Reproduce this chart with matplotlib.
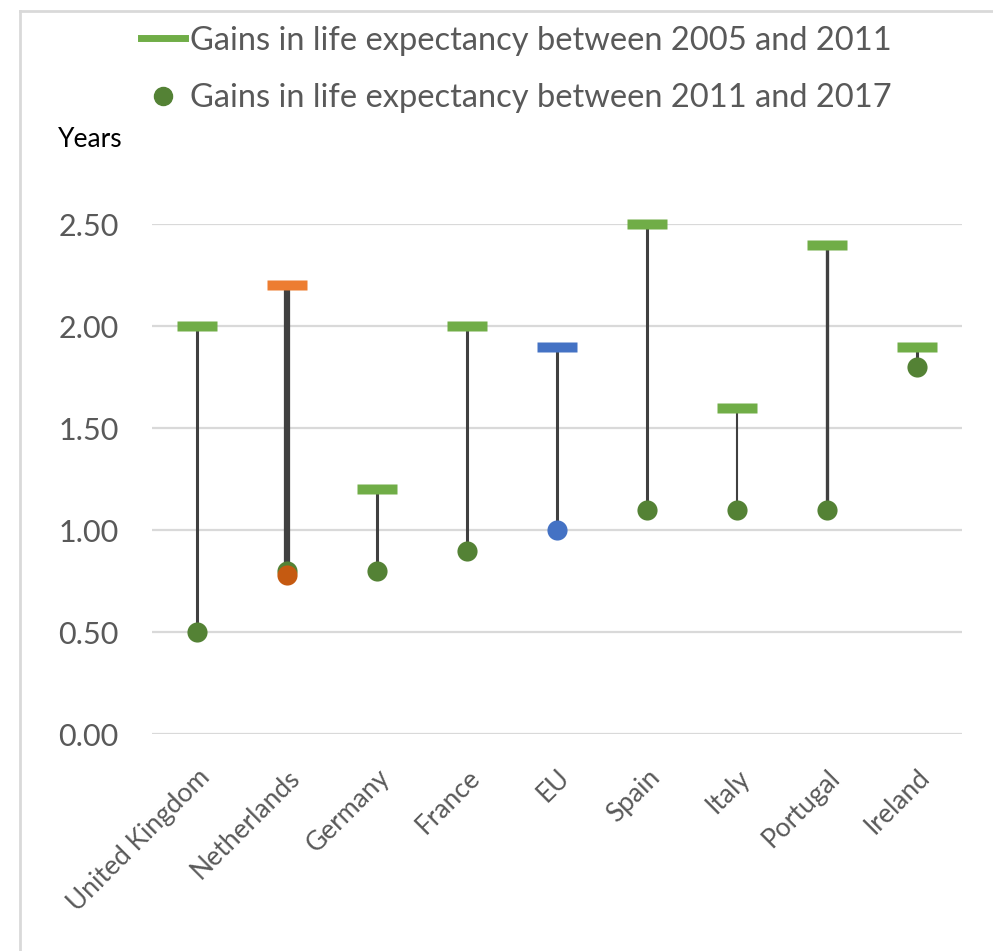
import numpy as np
import matplotlib
matplotlib.use("Agg")
import matplotlib.pyplot as plt
from matplotlib.lines import Line2D
from matplotlib import font_manager

# Dati: guadagni di aspettativa di vita (anni)
countries = ["United Kingdom", "Netherlands", "Germany", "France", "EU",
             "Spain", "Italy", "Portugal", "Ireland"]
gain_2005_2011 = [2.0, 2.2, 1.2, 2.0, 1.9, 2.5, 1.6, 2.4, 1.9]
gain_2011_2017 = [0.5, 0.8, 0.8, 0.9, 1.0, 1.1, 1.1, 1.1, 1.8]
# Punto evidenziato per i Paesi Bassi (sovrapposto al verde)
nl_highlight = 0.78
y_ticks = [0.0, 0.5, 1.0, 1.5, 2.0, 2.5]
legend_labels = ["Gains in life expectancy between 2005 and 2011",
                 "Gains in life expectancy between 2011 and 2017"]

# Stile
GREEN_BAR = "#70AD47"
GREEN_DOT = "#548235"
ORANGE_BAR = "#ED7D31"
ORANGE_DOT = "#C55A11"
BLUE = "#4472C4"
STEM = "#404040"
GRID = "#d9d9d9"
stem_widths = [2.2, 4.5, 2.2, 2.2, 2.2, 2.2, 1.5, 2.4, 2.2]

installed = {f.name for f in font_manager.fontManager.ttflist}
font = "Liberation Sans Narrow" if "Liberation Sans Narrow" in installed else "Lato"
plt.rcParams["font.family"] = [font, "DejaVu Sans"]

# Marker a trattino orizzontale
dash = [(-1, -0.24), (1, -0.24), (1, 0.24), (-1, 0.24), (-1, -0.24)]

fig = plt.figure(figsize=(9.93, 9.51), dpi=100)
ax = fig.add_axes([0.153, 0.228, 0.816, 0.5363])

x = np.arange(len(countries))
bar_colors = [GREEN_BAR] * len(countries)
dot_colors = [GREEN_DOT] * len(countries)
bar_colors[1] = ORANGE_BAR
bar_colors[4] = BLUE
dot_colors[4] = BLUE

for i in x:
    ax.plot([i, i], [gain_2011_2017[i], gain_2005_2011[i]], color=STEM,
            lw=stem_widths[i], solid_capstyle="butt", zorder=3, clip_on=False)
    ax.plot(i, gain_2011_2017[i], marker="o", ms=14.5, color=dot_colors[i],
            mec="none", zorder=4, clip_on=False)
    ax.plot(i, gain_2005_2011[i], marker=dash, ms=28.5, color=bar_colors[i],
            mec="none", zorder=5, clip_on=False)

ax.plot(1, nl_highlight, marker="o", ms=14.5, color=ORANGE_DOT, mec="none",
        zorder=4.5, clip_on=False)

ax.set_xlim(-0.5, len(countries) - 0.5)
ax.set_ylim(0, 2.5)
ax.set_yticks(y_ticks)
ax.set_yticklabels([f"{v:.2f}" for v in y_ticks])
ax.set_xticks(x)
ax.set_xticklabels(countries, rotation=45, ha="right", rotation_mode="anchor")
ax.grid(axis="y", color=GRID, lw=1.6)
ax.set_axisbelow(True)
for s in ax.spines.values():
    s.set_visible(False)
ax.tick_params(axis="y", length=0, pad=24, labelsize=22, labelcolor="#595959")
ax.tick_params(axis="x", length=0, pad=22, labelsize=19, labelcolor="#595959")

fig.text(0.058, 0.853, "Years", fontsize=19, color="black", va="center")

# Legenda
handles = [Line2D([], [], color=GREEN_BAR, lw=5),
           Line2D([], [], color=GREEN_DOT, marker="o", ms=13, ls="none")]
fig.legend(handles, legend_labels, loc="upper center",
           bbox_to_anchor=(0.52, 1.004), frameon=False, fontsize=23.5,
           labelcolor="#595959", handlelength=1.35, handletextpad=0.15,
           labelspacing=0.85)

# Cornice del grafico
fig.add_artist(Line2D([0.02, 0.02], [0, 0.988], color=GRID, lw=2,
                      transform=fig.transFigure))
fig.add_artist(Line2D([0.02, 1], [0.988, 0.988], color=GRID, lw=2,
                      transform=fig.transFigure))

fig.savefig("out.png", dpi=100)
